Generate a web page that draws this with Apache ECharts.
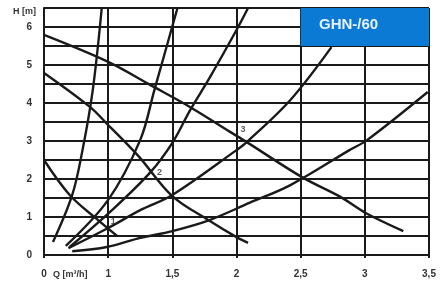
<!DOCTYPE html>
<html>
<head>
<meta charset="utf-8">
<script src="https://cdn.jsdelivr.net/npm/echarts@6/dist/echarts.min.js"></script>
<style>
  html, body { margin: 0; padding: 0; background: #fff; }
  #chart { width: 441px; height: 293px; }
</style>
</head>
<body>
<div id="chart"></div>
<script>
// x ticks are drawn at 0.5 steps, the first one is labelled "0"
const xTickLabels = ["0", "1", "1,5", "2", "2,5", "3", "3,5"];

// pump curves (speed 1..3), [Q, H]
const pump1 = [[0.5, 2.5], [0.7, 1.58], [0.91, 0.95], [1.07, 0.5]];
const pump2 = [[0.5, 4.79], [0.86, 3.89], [1.0, 3.42], [1.17, 2.84], [1.25, 2.55], [1.5, 1.55], [1.78, 0.92], [2.0, 0.47], [2.09, 0.32]];
const pump3 = [[0.5, 5.79], [1.0, 5.08], [1.33, 4.47], [1.64, 3.89], [1.95, 3.24], [2.08, 2.97], [2.51, 2.05], [2.81, 1.53], [3.01, 1.1], [3.3, 0.63]];

// system curves
const sys1 = [[0.57, 0.34], [0.72, 1.58], [0.8, 2.76], [0.88, 4.34], [0.95, 6.5]];
const sys2 = [[0.67, 0.24], [1.0, 1.45], [1.25, 3.03], [1.36, 4.34], [1.54, 6.5]];
const sys3 = [[0.7, 0.21], [1.03, 1.18], [1.33, 2.18], [1.5, 2.95], [1.64, 3.82], [1.79, 4.66], [2.0, 5.92], [2.09, 6.5]];
const sys4 = [[0.69, 0.18], [1.0, 0.71], [1.25, 1.18], [1.5, 1.58], [2.0, 2.76], [2.08, 2.97], [2.42, 4.08], [2.74, 5.47]];
const sys5 = [[0.72, 0.1], [0.99, 0.21], [1.25, 0.45], [1.5, 0.63], [1.79, 0.92], [2.1, 1.37], [2.42, 1.84], [2.88, 2.76], [3.02, 3.03], [3.49, 4.29]];

// small speed numbers next to the pump curves
const speedLabels = [[1.04, 0.87, "1"], [1.4, 2.16, "2"], [2.05, 3.29, "3"]];

const boxTitle = "GHN-/60";
const boxArea = [[2.5, 6.5], [3.5, 5.5]];

const chart = echarts.init(document.getElementById("chart"));

const FONT = "'Liberation Sans Narrow', 'Liberation Sans', sans-serif";
const INK = "#1a1a1a";

function curve(data) {
  return {
    type: "line",
    data: data,
    smooth: 0.35,
    symbol: "none",
    silent: true,
    lineStyle: { color: INK, width: 2.4 },
    z: 3
  };
}

chart.setOption({
  animation: false,
  grid: { left: 44, right: 12, top: 8, bottom: 38 },
  xAxis: {
    type: "value",
    min: 0.5,
    max: 3.5,
    interval: 0.5,
    axisLine: { show: true, lineStyle: { color: INK, width: 2 } },
    axisTick: { show: true, length: 3, lineStyle: { color: INK, width: 2 } },
    axisLabel: {
      margin: 14,
      color: "#333",
      fontFamily: FONT,
      fontWeight: "bold",
      fontSize: 10,
      formatter: v => xTickLabels[Math.round((v - 0.5) / 0.5)]
    },
    splitLine: { show: true, lineStyle: { color: INK, width: 2 } }
  },
  yAxis: {
    type: "value",
    min: 0,
    max: 6.5,
    interval: 0.5,
    axisLine: { show: true, lineStyle: { color: INK, width: 2 } },
    axisTick: { show: false },
    axisLabel: {
      margin: 12,
      color: "#333",
      fontFamily: FONT,
      fontWeight: "bold",
      fontSize: 10,
      formatter: v => (Number.isInteger(v) ? String(v) : "")
    },
    splitLine: { show: true, lineStyle: { color: INK, width: 2 } }
  },
  graphic: [
    {
      type: "text", left: 13, top: 7,
      style: { text: "H [m]", fontFamily: FONT, fontWeight: "bold", fontSize: 9, fill: "#333" }
    },
    {
      type: "text", left: 53, top: 270,
      style: { text: "Q [m³/h]", fontFamily: FONT, fontWeight: "bold", fontSize: 9, fill: "#333" }
    },
    {
      type: "text", left: 319, top: 17,
      style: { text: boxTitle, fontFamily: FONT, fontWeight: "bold", fontSize: 15, fill: "#e8f3ff" },
      z: 10
    }
  ],
  series: [
    {
      type: "line",
      data: [],
      silent: true,
      markArea: {
        silent: true,
        itemStyle: { color: "#0b7ad4", opacity: 1 },
        data: [[{ coord: boxArea[0] }, { coord: boxArea[1] }]]
      },
      z: 5
    },
    curve(pump1),
    curve(pump2),
    curve(pump3),
    curve(sys1),
    curve(sys2),
    curve(sys3),
    curve(sys4),
    curve(sys5),
    {
      type: "scatter",
      data: speedLabels,
      symbolSize: 0,
      silent: true,
      label: {
        show: true,
        position: "inside",
        formatter: p => p.data[2],
        fontFamily: FONT,
        fontWeight: "bold",
        fontSize: 9,
        color: "#333"
      },
      z: 6
    }
  ]
});
</script>
</body>
</html>
